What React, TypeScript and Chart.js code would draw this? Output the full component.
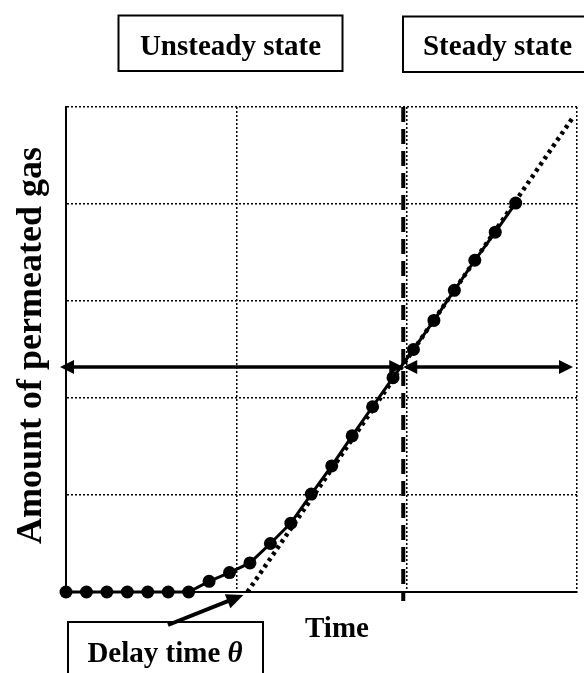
import React, { useEffect, useRef } from "react";
import { Chart, registerables } from "chart.js";

Chart.register(...registerables);

// Measured permeation curve (time vs. cumulative permeated gas)
const timeValues = [
  0, 0.12, 0.24, 0.36, 0.48, 0.6, 0.72, 0.84, 0.96, 1.08, 1.2, 1.32,
  1.44, 1.56, 1.68, 1.8, 1.92, 2.04, 2.16, 2.28, 2.4, 2.52, 2.64,
];
const permeatedAmounts = [
  0, 0, 0, 0, 0, 0, 0, 0.11, 0.2, 0.3, 0.5, 0.71,
  1.01, 1.3, 1.61, 1.91, 2.21, 2.5, 2.8, 3.11, 3.42, 3.71, 4.01,
];

// Steady-state asymptote extrapolated back to the time axis
const tangentTimes = [1.065, 2.975];
const tangentAmounts = [0, 4.89];

const delayTime = 1.065; // time-lag intercept θ
const steadyOnsetTime = 1.98; // boundary between the two regimes
const regimeArrowAmount = 2.32; // height of the regime arrows

const xAxisRange = [0, 3];
const yAxisRange = [0, 5];

const SERIF = '"Liberation Serif", "Times New Roman", serif';

function arrowHead(ctx: CanvasRenderingContext2D, fromX: number, fromY: number, tipX: number, tipY: number, len: number, half: number) {
  const ang = Math.atan2(tipY - fromY, tipX - fromX);
  const bx = tipX - Math.cos(ang) * len;
  const by = tipY - Math.sin(ang) * len;
  ctx.beginPath();
  ctx.moveTo(tipX, tipY);
  ctx.lineTo(bx + Math.sin(ang) * half, by - Math.cos(ang) * half);
  ctx.lineTo(bx - Math.sin(ang) * half, by + Math.cos(ang) * half);
  ctx.closePath();
  ctx.fill();
}

function doubleArrow(ctx: CanvasRenderingContext2D, x1: number, x2: number, y: number) {
  const len = 14;
  const half = 7;
  ctx.beginPath();
  ctx.moveTo(x1 + len - 2, y);
  ctx.lineTo(x2 - len + 2, y);
  ctx.stroke();
  arrowHead(ctx, x2, y, x1, y, len, half);
  arrowHead(ctx, x1, y, x2, y, len, half);
}

const annotationPlugin = {
  id: "permeationAnnotations",
  beforeDatasetsDraw(chart: any) {
    const { ctx, chartArea, scales } = chart;
    const sx = scales.x.getPixelForValue(steadyOnsetTime);
    ctx.save();
    // regime boundary
    ctx.strokeStyle = "#000";
    ctx.lineWidth = 4;
    ctx.setLineDash([15, 7]);
    ctx.beginPath();
    ctx.moveTo(sx, chartArea.top);
    ctx.lineTo(sx, chartArea.bottom + 9);
    ctx.stroke();
    ctx.restore();
  },
  afterDatasetsDraw(chart: any) {
    const { ctx, chartArea, scales } = chart;
    const xs = scales.x;
    const ys = scales.y;
    const sx = xs.getPixelForValue(steadyOnsetTime);
    const ay = ys.getPixelForValue(regimeArrowAmount);

    ctx.save();
    ctx.fillStyle = "#000";
    ctx.strokeStyle = "#000";
    ctx.lineWidth = 3.5;
    ctx.setLineDash([]);
    doubleArrow(ctx, chartArea.left - 6, sx, ay);
    doubleArrow(ctx, sx, chartArea.right - 4, ay);

    // pointer to the delay time intercept
    const tipX = xs.getPixelForValue(delayTime) - 4;
    const tipY = chartArea.bottom + 3;
    const tailX = 168;
    const tailY = 625;
    ctx.lineWidth = 4;
    const ang = Math.atan2(tipY - tailY, tipX - tailX);
    ctx.beginPath();
    ctx.moveTo(tailX, tailY);
    ctx.lineTo(tipX - Math.cos(ang) * 12, tipY - Math.sin(ang) * 12);
    ctx.stroke();
    arrowHead(ctx, tailX, tailY, tipX, tipY, 17, 7.5);

    // labelled boxes
    ctx.lineWidth = 2;
    ctx.strokeRect(118.5, 15.5, 224, 55.5);
    ctx.strokeRect(403, 16.5, 200, 55.5);
    ctx.strokeRect(68, 622, 195, 70);

    ctx.font = `bold 29px ${SERIF}`;
    ctx.textAlign = "center";
    ctx.textBaseline = "alphabetic";
    ctx.fillText("Unsteady state", 230.5, 55);
    ctx.fillText("Steady state", 497.5, 55);
    ctx.fillText("Time", 337, 637);

    // "Delay time θ" with an italic theta
    const main = "Delay time ";
    ctx.font = `bold 29px ${SERIF}`;
    const w1 = ctx.measureText(main).width;
    ctx.font = `italic bold 29px ${SERIF}`;
    const w2 = ctx.measureText("θ").width;
    const startX = 165 - (w1 + w2) / 2;
    ctx.textAlign = "left";
    ctx.font = `bold 29px ${SERIF}`;
    ctx.fillText(main, startX, 662);
    ctx.font = `italic bold 29px ${SERIF}`;
    ctx.fillText("θ", startX + w1, 662);

    // vertical axis title, centred on the plot area
    ctx.translate(41, (chartArea.top + chartArea.bottom) / 2 - 4);
    ctx.rotate(-Math.PI / 2);
    ctx.textAlign = "center";
    ctx.font = `bold 36px ${SERIF}`;
    ctx.fillText("Amount of permeated gas", 0, 0);
    ctx.restore();
  },
};

export default function App() {
  const canvasRef = useRef<HTMLCanvasElement | null>(null);

  useEffect(() => {
    document.body.style.margin = "0";
    const canvas = canvasRef.current;
    if (!canvas) return;

    const measured = timeValues.map((t, i) => ({ x: t, y: permeatedAmounts[i] }));
    const tangent = tangentTimes.map((t, i) => ({ x: t, y: tangentAmounts[i] }));

    const chart = new Chart(canvas, {
      type: "line",
      data: {
        datasets: [
          {
            label: "Asymptote",
            data: tangent,
            borderColor: "#000",
            borderWidth: 4.5,
            borderDash: [3.5, 4],
            pointRadius: 0,
            fill: false,
          },
          {
            label: "Permeated gas",
            data: measured,
            borderColor: "#000",
            borderWidth: 3,
            pointRadius: 6.5,
            pointBackgroundColor: "#000",
            pointBorderColor: "#000",
            pointBorderWidth: 0,
            fill: false,
            tension: 0,
            clip: false as any,
          },
        ],
      },
      options: {
        responsive: false,
        animation: false,
        devicePixelRatio: 1,
        layout: { padding: { left: 66, right: 7, top: 107, bottom: 81 } },
        plugins: {
          legend: { display: false },
          tooltip: { enabled: false },
        },
        scales: {
          x: {
            type: "linear",
            min: xAxisRange[0],
            max: xAxisRange[1],
            ticks: { display: false, stepSize: 1 },
            grid: { color: "#000", lineWidth: 1.5, drawTicks: false },
            border: { display: true, color: "#000", width: 2, dash: [2, 2] },
            afterFit: (s: any) => {
              s.height = 0;
            },
          },
          y: {
            type: "linear",
            min: yAxisRange[0],
            max: yAxisRange[1],
            ticks: { display: false, stepSize: 1 },
            grid: { color: "#000", lineWidth: 1.5, drawTicks: false },
            border: { display: true, color: "#000", width: 2, dash: [2, 2] },
            afterFit: (s: any) => {
              s.width = 0;
            },
          },
        },
      },
      plugins: [annotationPlugin],
    });

    return () => chart.destroy();
  }, []);

  return (
    <div style={{ position: "fixed", left: 0, top: 0, width: 584, height: 673, background: "#fff" }}>
      <canvas ref={canvasRef} width={584} height={673} style={{ display: "block" }} />
    </div>
  );
}
